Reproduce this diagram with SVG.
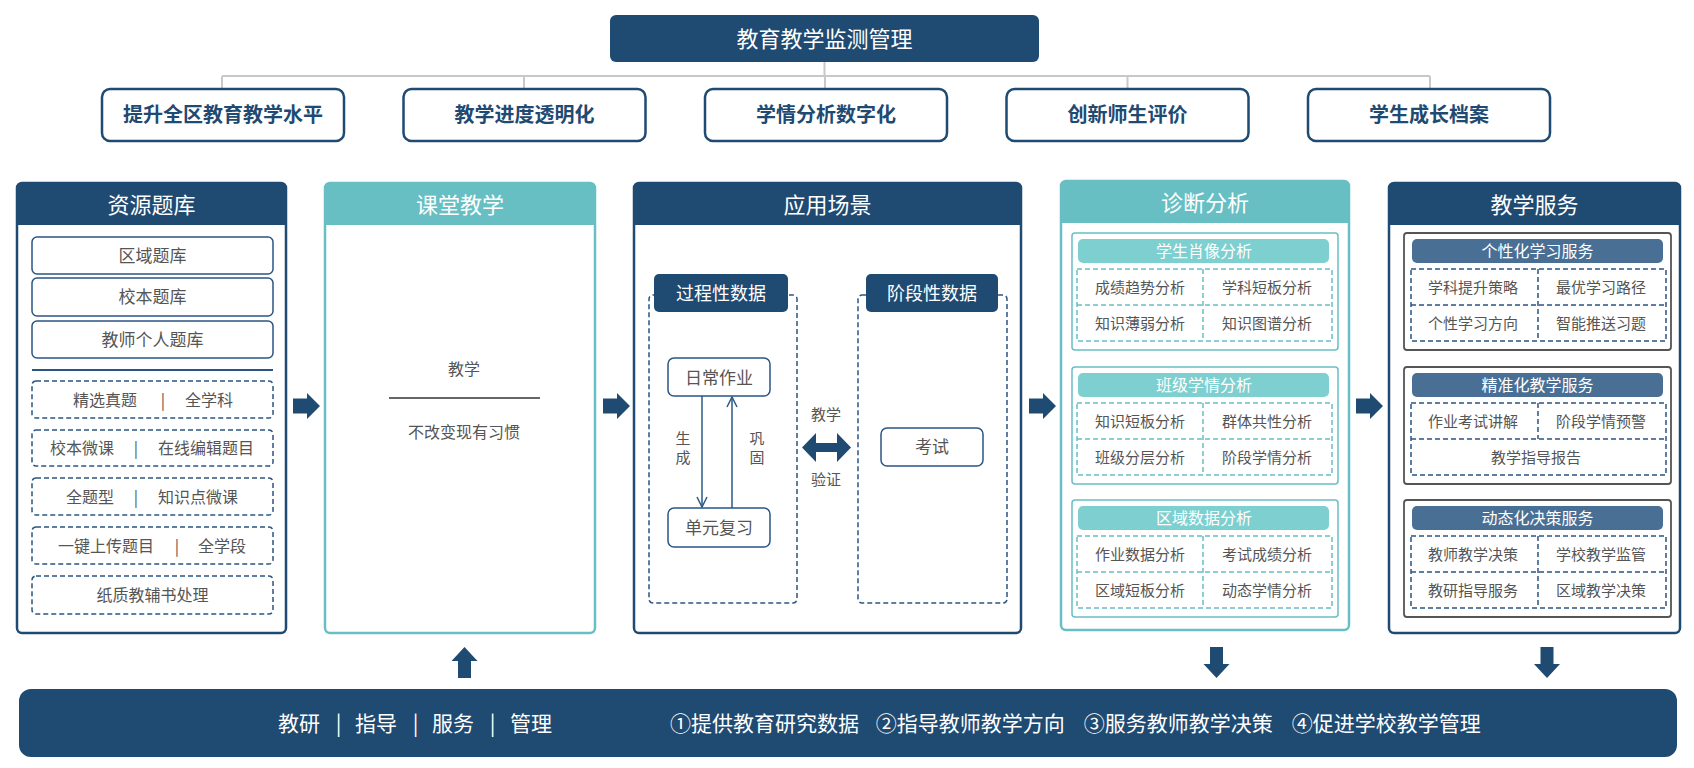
<svg xmlns="http://www.w3.org/2000/svg" xmlns:xlink="http://www.w3.org/1999/xlink" width="1694" height="768" viewBox="0 0 1694 768">
<style>
text{font-family:"Noto Sans CJK SC","Liberation Sans",sans-serif;text-anchor:middle;}
.hdr{font-size:22px;fill:#fff;}
.goal{fill:#fff;stroke:#1f4a72;stroke-width:2.5;}
.goalt{font-size:20px;font-weight:bold;fill:#1f4a72;}
.navyp{fill:#fff;stroke:#1f4a72;stroke-width:2.5;}
.tealp{fill:#fff;stroke:#67bfc3;stroke-width:2.5;}
.navyf{fill:#1f4a72;}
.tealf{fill:#67bfc3;}
.sbox{fill:#fff;stroke:#2a5683;stroke-width:1.5;}
.dbox{fill:none;stroke:#2a5683;stroke-width:1.5;stroke-dasharray:5 3;}
.dteal{fill:none;stroke:#67bfc3;stroke-width:1.5;stroke-dasharray:5 3;}
.t17{font-size:17px;fill:#555;}
.t16{font-size:16px;fill:#555;}
.t15{font-size:15px;fill:#555;}
.tab{font-size:18px;fill:#fff;}
.wt16{font-size:16px;fill:#fff;}
.conn{stroke:#c8c8c8;stroke-width:2;fill:none;}
.link{stroke:#2a5a87;stroke-width:1.5;fill:none;}
.tgrp{fill:#fff;stroke:#67bfc3;stroke-width:1.5;}
.sgrp{fill:#fff;stroke:#555;stroke-width:1.8;}
.tbar{fill:#7ecfd0;}
.sbar{fill:#4a6f95;}
.bar{font-size:21px;fill:#fff;}
</style>
<defs>
<path id="arrR" d="M0,-7.5 H14 V-13 L27,0 L14,13 V7.5 H0 Z" fill="#1f4a72"/>
<marker id="vhead" viewBox="0 0 12 12" refX="11" refY="6" markerWidth="12" markerHeight="12" markerUnits="userSpaceOnUse" orient="auto">
<path d="M1,1 L11,6 L1,11" fill="none" stroke="#2a5a87" stroke-width="1.5"/>
</marker>
</defs>

<g id="connectors">
<path class="conn" d="M824.5,62 V76 M222,76 H1430 M222,76 V89 M524,76 V89 M825,76 V89 M1127.5,76 V89 M1430,76 V89"/>
<use xlink:href="#arrR" transform="translate(293,406)"/>
<use xlink:href="#arrR" transform="translate(603,406)"/>
<use xlink:href="#arrR" transform="translate(1029,406)"/>
<use xlink:href="#arrR" transform="translate(1356,406)"/>
<path d="M464.5,647 L477.5,661 H471 V678 H458 V661 H451.5 Z" fill="#1f4a72"/>
<path d="M1216.5,678 L1229.5,664 H1223 V647 H1210 V664 H1203.5 Z" fill="#1f4a72"/>
<path d="M1547,678 L1560,664 H1553.5 V647 H1540.5 V664 H1534 Z" fill="#1f4a72"/>
</g>

<g id="top">
<rect x="610" y="15" width="429" height="47" rx="6" class="navyf"/>
<text x="824.5" y="46.5" class="hdr">教育教学监测管理</text>
</g>

<g id="goal1"><rect x="102" y="89" width="242" height="52" rx="8" class="goal"/><text x="223" y="122" class="goalt">提升全区教育教学水平</text></g>
<g id="goal2"><rect x="403.5" y="89" width="242" height="52" rx="8" class="goal"/><text x="524.5" y="122" class="goalt">教学进度透明化</text></g>
<g id="goal3"><rect x="705" y="89" width="242" height="52" rx="8" class="goal"/><text x="826" y="122" class="goalt">学情分析数字化</text></g>
<g id="goal4"><rect x="1006.5" y="89" width="242" height="52" rx="8" class="goal"/><text x="1127.5" y="122" class="goalt">创新师生评价</text></g>
<g id="goal5"><rect x="1308" y="89" width="242" height="52" rx="8" class="goal"/><text x="1429" y="122" class="goalt">学生成长档案</text></g>

<g id="panel-resource">
<rect x="17" y="183" width="269" height="450" rx="5" class="navyp"/>
<path d="M17,225 V188 Q17,183 22,183 H281 Q286,183 286,188 V225 Z" class="navyf"/>
<text x="151.5" y="212.5" class="hdr">资源题库</text>
<rect x="32" y="237" width="241" height="37" rx="5" class="sbox"/><text x="152.5" y="261.5" class="t17">区域题库</text>
<rect x="32" y="278" width="241" height="38" rx="5" class="sbox"/><text x="152.5" y="303" class="t17">校本题库</text>
<rect x="32" y="321" width="241" height="37" rx="5" class="sbox"/><text x="152.5" y="345.5" class="t17">教师个人题库</text>
<line x1="32" y1="370" x2="273" y2="370" stroke="#2a5683" stroke-width="2"/>
<rect x="32" y="381" width="241" height="37" rx="4" class="dbox"/>
<text x="105" y="405.5" class="t16">精选真题</text><text x="163" y="405.5" class="t16">|</text><text x="209" y="405.5" class="t16">全学科</text>
<rect x="32" y="430" width="241" height="36" rx="4" class="dbox"/>
<text x="82" y="454" class="t16">校本微课</text><text x="136" y="454" class="t16">|</text><text x="206" y="454" class="t16">在线编辑题目</text>
<rect x="32" y="478" width="241" height="37" rx="4" class="dbox"/>
<text x="90" y="502.5" class="t16">全题型</text><text x="136" y="502.5" class="t16">|</text><text x="198" y="502.5" class="t16">知识点微课</text>
<rect x="32" y="527" width="241" height="37" rx="4" class="dbox"/>
<text x="106" y="551.5" class="t16">一键上传题目</text><text x="177" y="551.5" class="t16">|</text><text x="222" y="551.5" class="t16">全学段</text>
<rect x="32" y="576" width="241" height="38" rx="4" class="dbox"/>
<text x="152.5" y="600.5" class="t16">纸质教辅书处理</text>
</g>

<g id="panel-class">
<rect x="325" y="183" width="270" height="450" rx="5" class="tealp"/>
<path d="M325,225 V188 Q325,183 330,183 H590 Q595,183 595,188 V225 Z" class="tealf"/>
<text x="460" y="212.5" class="hdr">课堂教学</text>
<text x="464" y="375" class="t16">教学</text>
<line x1="389" y1="398" x2="540" y2="398" stroke="#333" stroke-width="1.5"/>
<text x="464" y="438" class="t16">不改变现有习惯</text>
</g>

<g id="panel-scene">
<rect x="634" y="183" width="387" height="450" rx="5" class="navyp"/>
<path d="M634,225 V188 Q634,183 639,183 H1016 Q1021,183 1021,188 V225 Z" class="navyf"/>
<text x="827.5" y="212.5" class="hdr">应用场景</text>
<rect x="649" y="295" width="148" height="308" rx="4" class="dbox"/>
<rect x="654" y="274" width="134" height="38" rx="5" class="navyf"/>
<text x="721" y="299.5" class="tab">过程性数据</text>
<rect x="858" y="295" width="149" height="308" rx="4" class="dbox"/>
<rect x="866" y="274" width="132" height="38" rx="5" class="navyf"/>
<text x="932" y="299.5" class="tab">阶段性数据</text>
<rect x="668" y="358" width="102" height="38" rx="6" class="sbox"/>
<text x="719" y="383.5" class="t17">日常作业</text>
<rect x="668" y="508" width="102" height="39" rx="6" class="sbox"/>
<text x="719" y="534" class="t17">单元复习</text>
<line x1="702" y1="396" x2="702" y2="507" class="link" marker-end="url(#vhead)"/>
<line x1="732" y1="508" x2="732" y2="397" class="link" marker-end="url(#vhead)"/>
<text x="683" y="443.5" class="t15">生</text>
<text x="683" y="462.5" class="t15">成</text>
<text x="757" y="443.5" class="t15">巩</text>
<text x="757" y="462.5" class="t15">固</text>
<text x="826" y="419.5" class="t15">教学</text>
<text x="826" y="484.5" class="t15">验证</text>
<path d="M802,447.5 L816,433 V443 H837 V433 L851,447.5 L837,462 V452 H816 V462 Z" fill="#1f4a72"/>
<rect x="881" y="428" width="102" height="38" rx="6" class="sbox"/>
<text x="932" y="453" class="t17">考试</text>
</g>

<g id="panel-diag">
<rect x="1061" y="181" width="288" height="449" rx="5" class="tealp"/>
<path d="M1061,223 V186 Q1061,181 1066,181 H1344 Q1349,181 1349,186 V223 Z" class="tealf"/>
<text x="1205" y="210.5" class="hdr">诊断分析</text>

<rect x="1072" y="233" width="266" height="117" rx="3" class="tgrp"/>
<rect x="1078" y="239" width="251" height="24" rx="5" class="tbar"/>
<text x="1204" y="257" class="wt16">学生肖像分析</text>
<rect x="1077" y="269" width="255" height="72" class="dteal"/>
<path d="M1077,305 H1332 M1203,269 V341" class="dteal"/>
<text x="1140" y="292.5" class="t15">成绩趋势分析</text><text x="1267" y="292.5" class="t15">学科短板分析</text>
<text x="1140" y="328.5" class="t15">知识薄弱分析</text><text x="1267" y="328.5" class="t15">知识图谱分析</text>

<rect x="1072" y="367" width="266" height="117" rx="3" class="tgrp"/>
<rect x="1078" y="373" width="251" height="24" rx="5" class="tbar"/>
<text x="1204" y="391" class="wt16">班级学情分析</text>
<rect x="1077" y="403" width="255" height="72" class="dteal"/>
<path d="M1077,439 H1332 M1203,403 V475" class="dteal"/>
<text x="1140" y="426.5" class="t15">知识短板分析</text><text x="1267" y="426.5" class="t15">群体共性分析</text>
<text x="1140" y="462.5" class="t15">班级分层分析</text><text x="1267" y="462.5" class="t15">阶段学情分析</text>

<rect x="1072" y="500" width="266" height="117" rx="3" class="tgrp"/>
<rect x="1078" y="506" width="251" height="24" rx="5" class="tbar"/>
<text x="1204" y="524" class="wt16">区域数据分析</text>
<rect x="1077" y="536" width="255" height="72" class="dteal"/>
<path d="M1077,572 H1332 M1203,536 V608" class="dteal"/>
<text x="1140" y="559.5" class="t15">作业数据分析</text><text x="1267" y="559.5" class="t15">考试成绩分析</text>
<text x="1140" y="595.5" class="t15">区域短板分析</text><text x="1267" y="595.5" class="t15">动态学情分析</text>
</g>

<g id="panel-service">
<rect x="1389" y="183" width="291" height="450" rx="5" class="navyp"/>
<path d="M1389,225 V188 Q1389,183 1394,183 H1675 Q1680,183 1680,188 V225 Z" class="navyf"/>
<text x="1534.5" y="212.5" class="hdr">教学服务</text>

<rect x="1404" y="233" width="267" height="117" rx="3" class="sgrp"/>
<rect x="1412" y="239" width="251" height="24" rx="5" class="sbar"/>
<text x="1537.5" y="257" class="wt16">个性化学习服务</text>
<rect x="1411" y="269" width="255" height="72" class="dbox"/>
<path d="M1411,305 H1666 M1538,269 V341" class="dbox"/>
<text x="1473" y="292.5" class="t15">学科提升策略</text><text x="1601" y="292.5" class="t15">最优学习路径</text>
<text x="1473" y="328.5" class="t15">个性学习方向</text><text x="1601" y="328.5" class="t15">智能推送习题</text>

<rect x="1404" y="367" width="267" height="117" rx="3" class="sgrp"/>
<rect x="1412" y="373" width="251" height="24" rx="5" class="sbar"/>
<text x="1537.5" y="391" class="wt16">精准化教学服务</text>
<rect x="1411" y="403" width="255" height="72" class="dbox"/>
<path d="M1411,439 H1666 M1538,403 V439" class="dbox"/>
<text x="1473" y="426.5" class="t15">作业考试讲解</text><text x="1601" y="426.5" class="t15">阶段学情预警</text>
<text x="1536" y="462.5" class="t15">教学指导报告</text>

<rect x="1404" y="500" width="267" height="117" rx="3" class="sgrp"/>
<rect x="1412" y="506" width="251" height="24" rx="5" class="sbar"/>
<text x="1537.5" y="524" class="wt16">动态化决策服务</text>
<rect x="1411" y="536" width="255" height="72" class="dbox"/>
<path d="M1411,572 H1666 M1538,536 V608" class="dbox"/>
<text x="1473" y="559.5" class="t15">教师教学决策</text><text x="1601" y="559.5" class="t15">学校教学监管</text>
<text x="1473" y="595.5" class="t15">教研指导服务</text><text x="1601" y="595.5" class="t15">区域教学决策</text>
</g>

<g id="bottom">
<rect x="19" y="689" width="1658" height="68" rx="12" class="navyf"/>
<text y="731" class="bar" style="text-anchor:start"><tspan x="278">教研</tspan><tspan x="331"> | </tspan><tspan x="355">指导</tspan><tspan x="408"> | </tspan><tspan x="432">服务</tspan><tspan x="485"> | </tspan><tspan x="510">管理</tspan></text>
<text y="731" class="bar" style="text-anchor:start"><tspan x="670">①提供教育研究数据</tspan><tspan x="871"> ②指导教师教学方向</tspan><tspan x="1079"> ③服务教师教学决策</tspan><tspan x="1287"> ④促进学校教学管理</tspan></text>
</g>
</svg>
